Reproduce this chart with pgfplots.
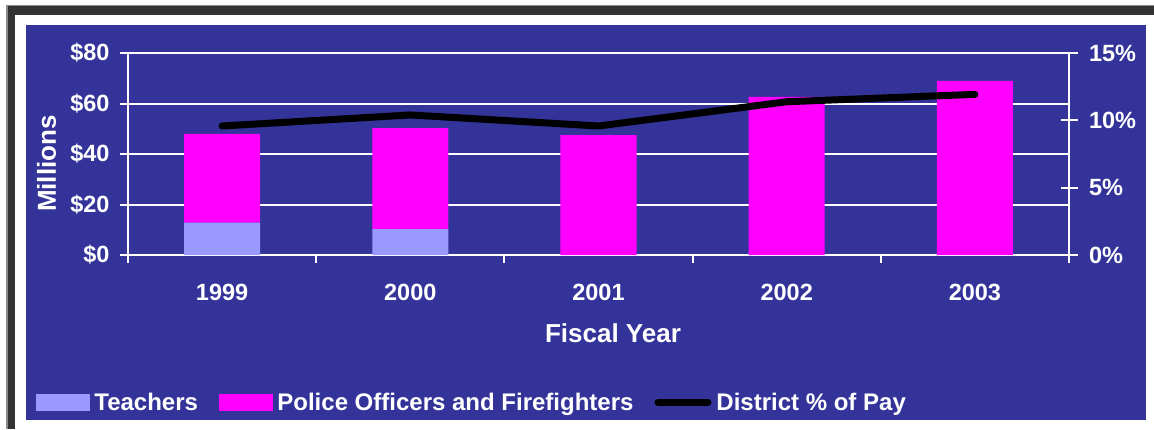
\documentclass[border=0pt]{standalone}
\usepackage{pgfplots}
\pgfplotsset{compat=1.18}
\usepackage{fontspec}
\setmainfont{Liberation Sans}
\definecolor{bgblue}{HTML}{333399}
\definecolor{teach}{HTML}{9999FF}
\definecolor{police}{HTML}{FF00FF}
\definecolor{framedark}{HTML}{333333}
\begin{document}
\begin{tikzpicture}
\path[use as bounding box] (0pt,0pt) rectangle (1154pt,-429pt);
\fill[white] (0pt,0pt) rectangle (1154pt,-429pt);
\fill[gray!90] (6pt,-5pt) rectangle (1154pt,-429pt);
\fill[framedark] (8pt,-6pt) rectangle (1154pt,-15pt);
\fill[framedark] (8pt,-6pt) rectangle (15pt,-429pt);
\fill[white] (15pt,-15pt) rectangle (1154pt,-429pt);
\fill[bgblue] (26pt,-25pt) rectangle (1146pt,-420pt);
\begin{axis}[
  at={(128pt,-255pt)}, anchor=south west,
  width=941pt, height=202pt, scale only axis,
  xmin=-0.5, xmax=4.5, ymin=0, ymax=80,
  axis x line*=bottom, axis y line*=left,
  axis line style={white, line width=2pt},
  xtick={0,1,2,3,4}, xticklabels={1999,2000,2001,2002,2003},
  major x tick style={draw=none},
  minor xtick={-0.5,0.5,1.5,2.5,3.5,4.5},
  minor x tick style={white, line width=2pt},
  minor tick length=8pt,
  ytick={0,20,40,60,80}, yticklabels={\$0,\$20,\$40,\$60,\$80},
  ymajorgrids, grid style={white, line width=2pt},
  tick align=outside, major tick length=8pt,
  y tick style={white, line width=2pt},
  tick label style={white, font=\fontsize{23.5}{26}\selectfont\bfseries},
  xticklabel style={yshift=-18pt},
  yticklabel style={xshift=-7pt},
  xlabel={Fiscal Year},
  xlabel style={at={(axis description cs:0.5154,-0.386)}, anchor=center, white, font=\fontsize{26}{30}\selectfont\bfseries},
  ylabel={Millions},
  ylabel style={at={(axis description cs:-0.0866,0.453)}, anchor=center, white, font=\fontsize{26}{30}\selectfont\bfseries},
  ybar stacked, bar width=0.404,
]
\addplot[fill=teach, draw=none] coordinates {(0,12.8) (1,10.3) (2,0) (3,0) (4,0)};
\addplot[fill=police, draw=none] coordinates {(0,35.2) (1,40.0) (2,47.5) (3,62.6) (4,69.0)};
\end{axis}
\begin{axis}[
  at={(128pt,-255pt)}, anchor=south west,
  width=941pt, height=202pt, scale only axis,
  xmin=-0.5, xmax=4.5, ymin=0, ymax=15,
  axis x line=none, axis y line*=right,
  axis line style={white, line width=2pt},
  ytick={0,5,10,15}, yticklabels={0\%,5\%,10\%,15\%},
  tick align=center, major tick length=17pt,
  y tick style={white, line width=2pt},
  tick label style={white, font=\fontsize{23.5}{26}\selectfont\bfseries},
  yticklabel style={xshift=8pt},
  legend columns=3,
  legend style={at={(axis description cs:-0.0978,-0.728)}, anchor=west,
    draw=none, fill=none, inner sep=0pt, outer sep=0pt,
    text=white, font=\fontsize{24}{27}\selectfont\bfseries,
    nodes={inner ysep=2pt, inner xsep=5pt},
    /tikz/every even column/.append style={column sep=16pt}},
  legend cell align=left,
]
\addlegendimage{legend image code/.code={\fill[teach] (0pt,-8pt) rectangle (53pt,8pt);}}
\addlegendentry{Teachers}
\addlegendimage{legend image code/.code={\fill[police] (0pt,-8pt) rectangle (53pt,8pt);}}
\addlegendentry{Police Officers and Firefighters}
\addplot[black, line width=7pt, line cap=round, line join=round,
  legend image code/.code={\draw[black, line width=7pt, line cap=round] (3.5pt,0pt) -- (53.5pt,0pt);}]
  coordinates {(0,9.58) (1,10.4) (2,9.58) (3,11.38) (4,11.93)};
\addlegendentry{District \% of Pay}
\end{axis}
\end{tikzpicture}
\end{document}
